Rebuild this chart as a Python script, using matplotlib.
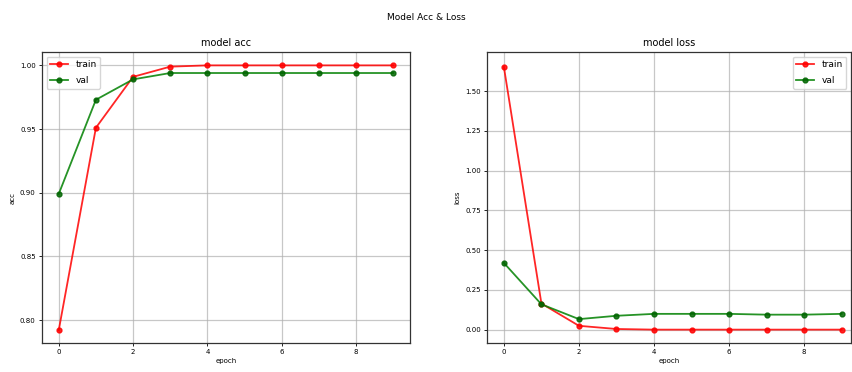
import matplotlib
matplotlib.use("Agg")
import matplotlib.pyplot as plt

epochs = list(range(10))
train_acc = [0.792, 0.951, 0.991, 0.999, 1.0, 1.0, 1.0, 1.0, 1.0, 1.0]
val_acc = [0.899, 0.973, 0.989, 0.994, 0.994, 0.994, 0.994, 0.994, 0.994, 0.994]
train_loss = [1.651, 0.165, 0.025, 0.005, 0.001, 0.001, 0.001, 0.001, 0.001, 0.001]
val_loss = [0.42, 0.16, 0.067, 0.088, 0.10, 0.10, 0.10, 0.095, 0.095, 0.10]
acc_ticks = [0.80, 0.85, 0.90, 0.95, 1.00]
loss_ticks = [0.00, 0.25, 0.50, 0.75, 1.00, 1.25, 1.50]
x_ticks = [0, 2, 4, 6, 8]

W, H = 852, 372
fig = plt.figure(figsize=(W / 100, H / 100), dpi=100)
fig.text(0.5, 1 - 18 / H, "Model Acc & Loss", ha="center", va="center", fontsize=6.5)

ax1 = fig.add_axes([42 / W, 1 - 343 / H, 368 / W, 291 / H])
ax2 = fig.add_axes([487 / W, 1 - 343 / H, 364 / W, 291 / H])

def style(ax, title, ylabel, yticks):
    ax.set_title(title, fontsize=7, pad=4)
    ax.set_xlabel("epoch", fontsize=5, labelpad=2)
    ax.set_ylabel(ylabel, fontsize=5, labelpad=3)
    ax.set_xticks(x_ticks)
    ax.set_yticks(yticks)
    ax.set_yticklabels([f"{t:.2f}" for t in yticks])
    ax.tick_params(labelsize=5, length=2.5, width=0.6, pad=2)
    ax.grid(True, color="#b0b0b0", linewidth=0.9, alpha=0.7)
    for s in ax.spines.values():
        s.set_linewidth(0.9)
        s.set_color("#333333")

ax1.plot(epochs, train_acc, color="red", marker="o", markersize=3.5, linewidth=1.3, label="train", alpha=0.85)
ax1.plot(epochs, val_acc, color="green", marker="o", markersize=3.5, linewidth=1.3, label="val",
         markerfacecolor="darkgreen", markeredgecolor="darkgreen", alpha=0.85)
style(ax1, "model acc", "acc", acc_ticks)
ax1.set_xlim(-0.45, 9.45)
ax1.set_ylim(0.782, 1.0105)
ax1.legend(loc="upper left", fontsize=6.5, handlelength=2, labelspacing=0.8, framealpha=0.8)

ax2.plot(epochs, train_loss, color="red", marker="o", markersize=3.5, linewidth=1.3, label="train", alpha=0.85)
ax2.plot(epochs, val_loss, color="green", marker="o", markersize=3.5, linewidth=1.3, label="val",
         markerfacecolor="darkgreen", markeredgecolor="darkgreen", alpha=0.85)
style(ax2, "model loss", "loss", loss_ticks)
ax2.set_xlim(-0.45, 9.25)
ax2.set_ylim(-0.083, 1.745)
ax2.legend(loc="upper right", fontsize=6.5, handlelength=2, labelspacing=0.8, framealpha=0.8)

fig.savefig("out.png", dpi=100)
